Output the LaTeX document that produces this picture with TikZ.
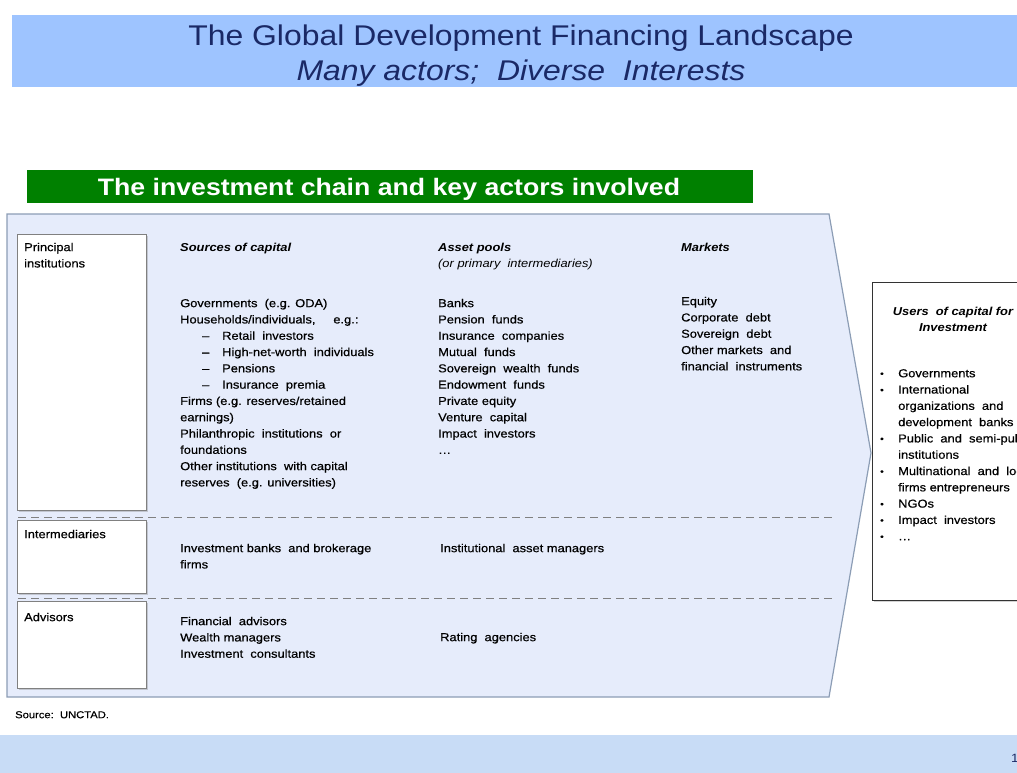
\documentclass[tikz,border=0pt]{standalone}
\usepackage{fontspec}
\setmainfont{Liberation Sans}[FakeStretch=1.12]
\newfontfamily\texteplein{Liberation Sans}[FakeStretch=1.12, FakeBold=0.5, Ligatures=TeX]
\usetikzlibrary{shadows}

\definecolor{bleutitre}{HTML}{9EC4FF}
\definecolor{encre}{HTML}{1A2966}
\definecolor{vert}{HTML}{008000}
\definecolor{fondchaine}{HTML}{E6ECFB}
\definecolor{bordchaine}{HTML}{8C9DB5}
\definecolor{piedpage}{HTML}{C8DCF6}

\newcommand{\corps}{\fontsize{11.5}{16.3}\selectfont}
\newcommand{\puce}{\makebox[18pt][l]{\raisebox{0.5pt}{\small\textbullet}}}
\newcommand{\tiret}{\hspace*{22pt}\makebox[20pt][l]{\textendash}}

\begin{document}
\begin{tikzpicture}[
    x=1pt, y=-1pt,  % On travaille en points, y vers le bas
    % Cadres blancs avec ombre
    cadre/.style={draw=gray, fill=white, line width=1.2pt, inner sep=0pt,
        anchor=north west, drop shadow={shadow xshift=1.5pt, shadow yshift=-1.5pt, opacity=0.35}},
    % Blocs de texte
    liste/.style={anchor=north west, inner sep=0pt, align=left, font=\texteplein\corps},
    entete/.style={liste, font=\corps\bfseries\itshape},
    separation/.style={draw=gray, line width=1pt, dash pattern=on 8pt off 5pt}
]
\useasboundingbox (0,0) rectangle (1017,773);

% Bandeau du titre
\fill[bleutitre] (12,15) rectangle (1030,87);
\node[anchor=base, font=\fontsize{28.5}{32}\selectfont, text=encre] (titre) at (521,46)
    {The Global Development Financing Landscape};
\node[anchor=base, font=\fontsize{28.5}{32}\selectfont\itshape, text=encre] (soustitre) at (521,81)
    {Many actors;\ \ Diverse\ \ Interests};

% Bandeau vert
\fill[vert] (27,170) rectangle (753,203);
\node[anchor=base, font=\fontsize{23.8}{28}\selectfont\bfseries, text=white] (chaine) at (389,195)
    {The investment chain and key actors involved};

% Chevron de la chaine
\draw[fill=fondchaine, draw=bordchaine, line width=1.2pt]
    (7,214) -- (829,214) -- (871,453) -- (829,697) -- (7,697) -- cycle;

% Cadres de gauche
\node[cadre, minimum width=129, minimum height=276] (principal) at (17,234) {};
\node[cadre, minimum width=129, minimum height=73] (intermediaire) at (17,520) {};
\node[cadre, minimum width=129, minimum height=87] (conseil) at (17,601) {};

\node[liste] (lprincipal) at (24,242.6) {Principal\\institutions};
\node[liste] (lintermediaire) at (24,529.6) {Intermediaries};
\node[liste] (lconseil) at (24,612.6) {Advisors};

% Lignes pointillees
\draw[separation] (18,517) -- (833,517);
\draw[separation] (18,598) -- (833,598);

% Entetes des colonnes
\node[entete] (hsources) at (180,242.6) {Sources of capital};
\node[entete] (hpools) at (438,242.6) {Asset pools\\\mdseries(or primary\ \ intermediaries)};
\node[entete] (hmarkets) at (681,242.6) {Markets};

% Acteurs principaux
\node[liste] (sources) at (180,298.6) {%
    Governments\ \ (e.g. ODA)\\
    Households/individuals,\ \ \ \ \ e.g.:\\
    \tiret Retail\ \ investors\\
    \tiret High-net-worth\ \ individuals\\
    \tiret Pensions\\
    \tiret Insurance\ \ premia\\
    Firms (e.g. reserves/retained\\
    earnings)\\
    Philanthropic\ \ institutions\ \ or\\
    foundations\\
    Other institutions\ \ with capital\\
    reserves\ \ (e.g. universities)};
\node[liste] (pools) at (438,298.6) {%
    Banks\\
    Pension\ \ funds\\
    Insurance\ \ companies\\
    Mutual\ \ funds\\
    Sovereign\ \ wealth\ \ funds\\
    Endowment\ \ funds\\
    Private equity\\
    Venture\ \ capital\\
    Impact\ \ investors\\
    \dots};
\node[liste] (markets) at (681,296.6) {%
    Equity\\
    Corporate\ \ debt\\
    Sovereign\ \ debt\\
    Other markets\ \ and\\
    financial\ \ instruments};

% Intermediaires et conseillers
\node[liste] (banques) at (180,543.6) {Investment banks\ \ and brokerage\\firms};
\node[liste] (gestion) at (440,543.6) {Institutional\ \ asset managers};
\node[liste] (conseillers) at (180,616.6) {%
    Financial\ \ advisors\\
    Wealth managers\\
    Investment\ \ consultants};
\node[liste] (notation) at (440,632.6) {Rating\ \ agencies};

% Utilisateurs du capital
\node[cadre, draw=black!80, minimum width=170, minimum height=318] (utilisateurs) at (872,282) {};
\node[entete, anchor=north, align=center] (husers) at (953,306.6)
    {Users\ \ of capital for\\Investment};
\node[liste] (users) at (880,369) {%
    \puce Governments\\
    \puce International\\
    \hspace*{18pt}organizations\ \ and\\
    \hspace*{18pt}development\ \ banks\\
    \puce Public\ \ and\ \ semi-public\\
    \hspace*{18pt}institutions\\
    \puce Multinational\ \ and\ \ local\\
    \hspace*{18pt}firms entrepreneurs\\
    \puce NGOs\\
    \puce Impact\ \ investors\\
    \puce \dots};

% Source et pied de page
\node[liste, font=\texteplein\fontsize{10}{12}\selectfont] (source) at (15,711) {Source:\ \ UNCTAD.};
\fill[piedpage] (0,735) rectangle (1017,773);
\node[anchor=west, inner sep=0pt, font=\fontsize{12}{14}\selectfont, text=encre] (page) at (1011,758) {1};
\end{tikzpicture}
\end{document}
